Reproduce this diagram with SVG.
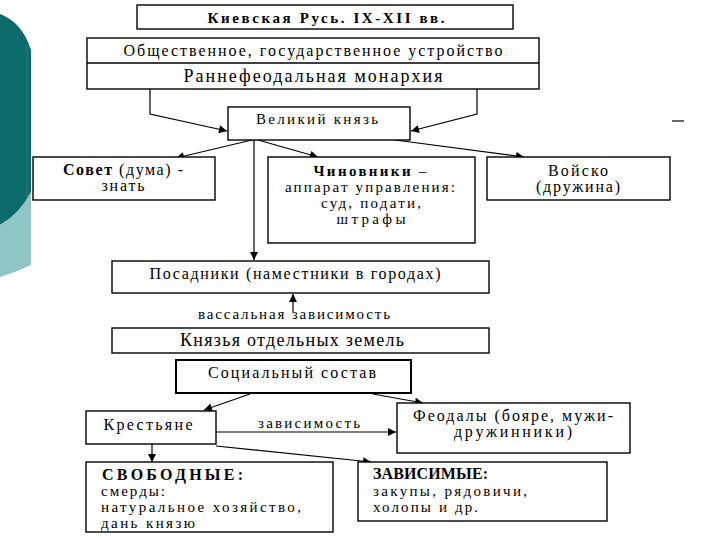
<svg xmlns="http://www.w3.org/2000/svg" width="720" height="540" viewBox="0 0 720 540">
<style>
.box{fill:#fff;stroke:#000;stroke-width:1.4}
.thick{stroke-width:2}
text{font-family:'Liberation Serif','Tinos','Noto Serif','DejaVu Serif',serif;fill:#000;text-anchor:middle}
.s14{font-size:14px}
.s15{font-size:15px}
.s16{font-size:16px}
.s17{font-size:18px}
.b{font-weight:bold}
.l{text-anchor:start}
.con{fill:none;stroke:#000;stroke-width:1.2}
</style>
<defs>
<marker id="ah" viewBox="0 0 10 10" refX="10" refY="5" markerWidth="10" markerHeight="8" markerUnits="userSpaceOnUse" orient="auto">
<path d="M0,0 L10,5 L0,10 Z" fill="#000"/>
</marker>
</defs>
<rect width="720" height="540" fill="#fff"/>
<g id="decor">
<path d="M0,14 Q22,22 31,50 L31,192 Q20,214 0,225 Z" fill="#0d6a6a"/>
<path d="M0,225 Q20,214 31,192 L31,265 Q16,272 0,277 Z" fill="#8fc6c5"/>
<line x1="27" y1="45" x2="27" y2="197" stroke="#1b7775" stroke-width="2"/>
<line x1="672" y1="121" x2="684" y2="121" stroke="#000" stroke-width="1.2"/>
</g>
<g id="connectors">
<polyline class="con" points="150,89 150,114 227,131" marker-end="url(#ah)"/>
<polyline class="con" points="477,89 477,114 411,131" marker-end="url(#ah)"/>
<line class="con" x1="252" y1="140" x2="176" y2="158" marker-end="url(#ah)"/>
<line class="con" x1="258" y1="140" x2="318" y2="157" marker-end="url(#ah)"/>
<line class="con" x1="395" y1="140" x2="524" y2="157" marker-end="url(#ah)"/>
<line class="con" x1="254" y1="140" x2="254" y2="260" stroke-width="2" marker-end="url(#ah)"/>
<line class="con" x1="293" y1="312" x2="293" y2="294" marker-end="url(#ah)"/>
<line class="con" x1="250" y1="394" x2="204" y2="410" marker-end="url(#ah)"/>
<line class="con" x1="373" y1="394" x2="423" y2="403" marker-end="url(#ah)"/>
<line class="con" x1="216" y1="432" x2="396" y2="432" marker-end="url(#ah)"/>
<line class="con" x1="152" y1="444" x2="152" y2="462" marker-end="url(#ah)"/>
<line class="con" x1="216" y1="446" x2="371" y2="462" marker-end="url(#ah)"/>
<text class="s15" x="294" y="319" textLength="192" lengthAdjust="spacing">вассальная зависимость</text>
<text class="s15" x="309" y="428" textLength="102" lengthAdjust="spacing">зависимость</text>
</g>
<g id="title">
<rect class="box" x="137" y="5" width="376" height="24"/>
<text class="s15 b" x="326" y="23" textLength="237" lengthAdjust="spacing">Киевская Русь. IX-XII вв.</text>
</g>
<g id="ustroystvo">
<rect class="box" x="87" y="38" width="452" height="51"/>
<line x1="87" y1="63" x2="539" y2="63" stroke="#000" stroke-width="1.4"/>
<text class="s16" x="313" y="56" textLength="379" lengthAdjust="spacing">Общественное, государственное устройство</text>
<text class="s17" x="313" y="82" textLength="259" lengthAdjust="spacing">Раннефеодальная монархия</text>
</g>
<g id="velikiy">
<rect class="box" x="228" y="107" width="182" height="33"/>
<text class="s15" x="317" y="124" textLength="122" lengthAdjust="spacing">Великий князь</text>
</g>
<g id="sovet">
<rect class="box" x="33" y="157" width="182" height="43"/>
<text class="s16" x="123" y="175" textLength="120" lengthAdjust="spacing"><tspan class="b">Совет</tspan> (дума) -</text>
<text class="s16" x="123" y="191" textLength="43" lengthAdjust="spacing">знать</text>
</g>
<g id="chinovniki">
<rect class="box" x="268" y="157" width="207" height="86"/>
<text class="s15" x="370" y="176" textLength="113" lengthAdjust="spacing"><tspan class="b">Чиновники</tspan> –</text>
<text class="s15" x="370" y="192" textLength="170" lengthAdjust="spacing">аппарат управления:</text>
<text class="s15" x="371" y="208" textLength="100" lengthAdjust="spacing">суд, подати,</text>
<text class="s15" x="371" y="224" textLength="69" lengthAdjust="spacing">штрафы</text>
</g>
<g id="voysko">
<rect class="box" x="487" y="157" width="183" height="43"/>
<text class="s16" x="578" y="176" textLength="60" lengthAdjust="spacing">Войско</text>
<text class="s16" x="578" y="192" textLength="84" lengthAdjust="spacing">(дружина)</text>
</g>
<g id="posadniki">
<rect class="box" x="112" y="261" width="377" height="32"/>
<text class="s16" x="295" y="279" textLength="291" lengthAdjust="spacing">Посадники (наместники в городах)</text>
</g>
<g id="knyazya">
<rect class="box" x="112" y="328" width="377" height="25"/>
<text class="s17" x="292" y="346" textLength="224" lengthAdjust="spacing">Князья отдельных земель</text>
</g>
<g id="sostav">
<rect class="box thick" x="176" y="360" width="235" height="33"/>
<text class="s16" x="292" y="378" textLength="168" lengthAdjust="spacing">Социальный состав</text>
</g>
<g id="krestyane">
<rect class="box" x="86" y="411" width="130" height="33"/>
<text class="s16" x="148" y="430" textLength="89" lengthAdjust="spacing">Крестьяне</text>
</g>
<g id="feodaly">
<rect class="box" x="397" y="403" width="233" height="50"/>
<text class="s16" x="513" y="421" textLength="200" lengthAdjust="spacing">Феодалы (бояре, мужи-</text>
<text class="s16" x="513" y="437" textLength="118" lengthAdjust="spacing">дружинники)</text>
</g>
<g id="svobodnye">
<rect class="box" x="86" y="462" width="247" height="70"/>
<text class="s16 b l" x="102" y="480" textLength="141" lengthAdjust="spacing">СВОБОДНЫЕ:</text>
<text class="s15 l" x="101" y="496" textLength="64" lengthAdjust="spacing">смерды:</text>
<text class="s15 l" x="101" y="512" textLength="200" lengthAdjust="spacing">натуральное хозяйство,</text>
<text class="s15 l" x="101" y="528" textLength="94" lengthAdjust="spacing">дань князю</text>
</g>
<g id="zavisimye">
<rect class="box" x="358" y="462" width="249" height="59"/>
<text class="s16 b l" x="373" y="479" textLength="115" lengthAdjust="spacing">ЗАВИСИМЫЕ:</text>
<text class="s15 l" x="373" y="496" textLength="154" lengthAdjust="spacing">закупы, рядовичи,</text>
<text class="s15 l" x="373" y="512" textLength="105" lengthAdjust="spacing">холопы и др.</text>
</g>
</svg>
